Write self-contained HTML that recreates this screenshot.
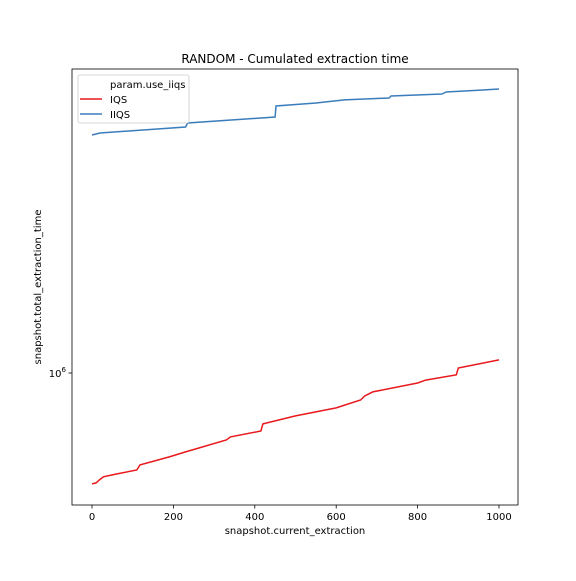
<!DOCTYPE html>
<html><head><meta charset="utf-8"><style>
body{margin:0;background:#fff;}
svg text{font-family:"DejaVu Sans","Liberation Sans",sans-serif;fill:#000;}
</style></head><body>
<svg id="chart" width="576" height="576">
<rect width="576" height="576" fill="#fff"/>
<text x="295" y="63" font-size="12" text-anchor="middle">RANDOM - Cumulated extraction time</text>
<text x="295" y="534" font-size="10" text-anchor="middle">snapshot.current_extraction</text>
<text transform="translate(41,287) rotate(-90)" font-size="10" text-anchor="middle">snapshot.total_extraction_time</text>
<g id="marks"></g>
<g id="axes"></g>
</svg>
<script>
const xTicks=[0,200,400,600,800,1000];
const redX=[0,10,18,28,60,110,118,190,230,330,340,415,420,500,600,660,670,690,800,820,895,900,1000];
const redY=[528000,531000,540000,550000,559000,572000,589000,617000,635000,680000,692000,716000,746000,781000,818000,856000,876000,897000,944000,960000,989000,1029000,1078000];
const blueX=[0,20,230,235,450,452,550,620,730,735,860,870,960,1000];
const blueY=[3936000,3981000,4121000,4217000,4365000,4651000,4732000,4815000,4870000,4926000,4983000,5041000,5098000,5129000];
const L=72,R=518,T=69,B=505;
const xs=v=>92+(v-0)*(499-92)/1000;
const yMin=467700,yMax=5754000;
const ys=v=>B-(Math.log10(v)-Math.log10(yMin))/(Math.log10(yMax)-Math.log10(yMin))*(B-T);
const NS='http://www.w3.org/2000/svg';
const marks=document.getElementById('marks'),axes=document.getElementById('axes');
function mk(t,a,p){const e=document.createElementNS(NS,t);for(const k in a)e.setAttribute(k,a[k]);p.appendChild(e);return e;}
function line(xa,ya,col,name){
 const d=xa.map((x,i)=>(i?'L':'M')+xs(x).toFixed(1)+','+ys(ya[i]).toFixed(1)).join('');
 const p=mk('path',{d:d,fill:'none',stroke:col,'stroke-width':1.5},marks);
 
 
}
line(redX,redY,'#e8191c','series-iqs');
line(blueX,blueY,'#3a7dbd','series-iiqs');
const fr=mk('rect',{x:L,y:T,width:R-L,height:B-T,fill:'none',stroke:'#000','stroke-width':0.8},axes);


xTicks.forEach(v=>{
 const x=xs(v);
 mk('line',{x1:x,x2:x,y1:B,y2:B+3.5,stroke:'#000','stroke-width':0.8},axes);
 const t=mk('text',{x:x,y:B+15,'font-size':10,'text-anchor':'middle'},axes);
 t.textContent=v;
 
 
});
const y6=ys(1e6);
mk('line',{x1:L-3.5,x2:L,y1:y6,y2:y6,stroke:'#000','stroke-width':0.8},axes);
const yt=mk('text',{x:L-6,y:y6+4,'font-size':10,'text-anchor':'end'},axes);
yt.innerHTML='10<tspan dy="-5" font-size="7">6</tspan>';


// legend
const lg=mk('g',{},axes);


mk('rect',{x:78,y:75,width:111,height:48,rx:2,fill:'#fff',stroke:'#ccc','stroke-width':0.8},lg);
const lt=mk('text',{x:110,y:88,'font-size':10},lg);lt.textContent='param.use_iiqs';


[['IQS','#e8191c',103],['IIQS','#3a7dbd',118]].forEach(([n,c,y])=>{
 mk('line',{x1:80,x2:102,y1:y-4,y2:y-4,stroke:c,'stroke-width':1.5},lg);
 const t=mk('text',{x:110,y:y,'font-size':10},lg);t.textContent=n;
 
 
});
</script>
</body></html>
